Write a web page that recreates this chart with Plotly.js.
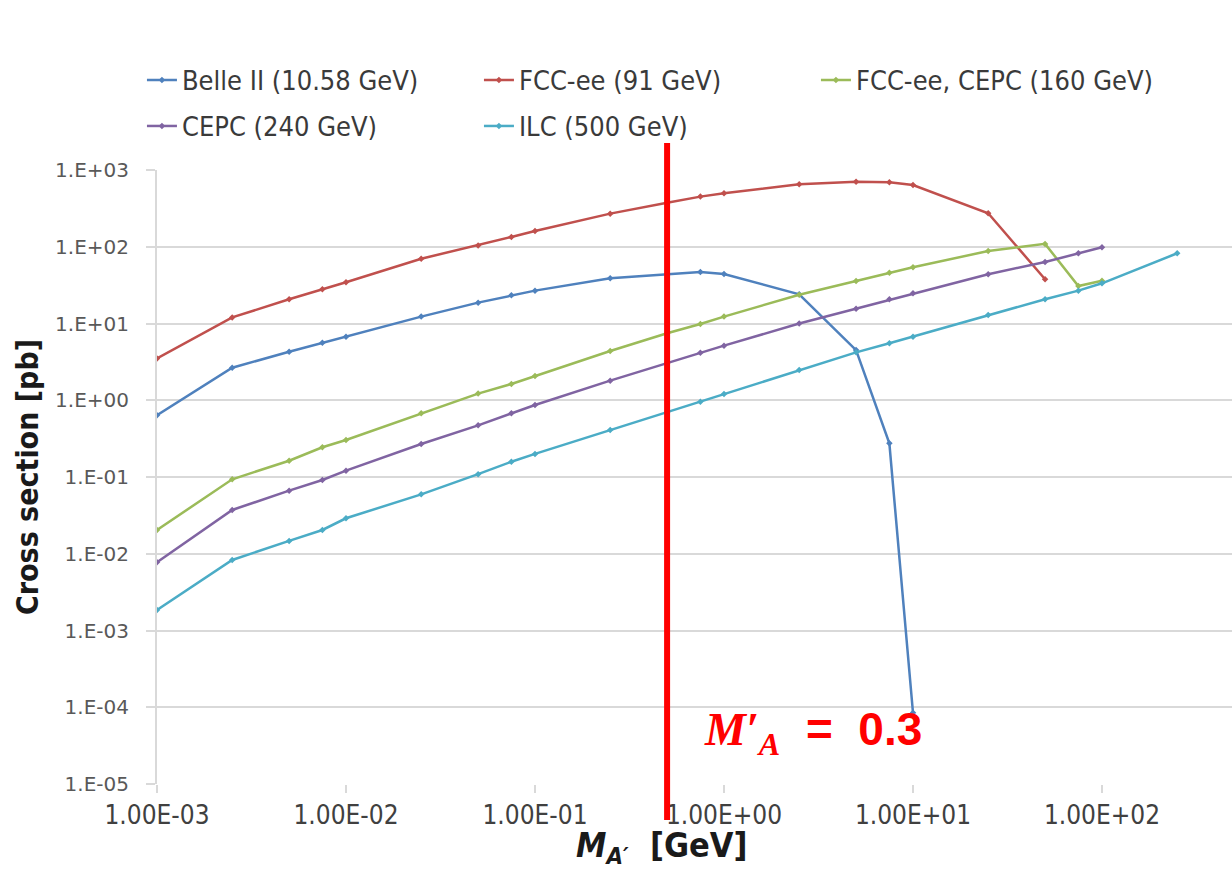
<!DOCTYPE html>
<html><head><meta charset="utf-8">
<script src="https://cdn.plot.ly/plotly-3.0.1.min.js"></script>
<style>html,body{margin:0;padding:0;background:#fff;}#chart{width:1232px;height:872px;}</style>
</head><body><div id="chart"></div>
<script>
// masses [GeV]
const massBelle = [0.001,0.0025,0.005,0.0075,0.01,0.025,0.05,0.075,0.1,0.25,0.5,0.75,1,2.5,5,7.5,10];
const xsBelle   = [0.64,2.65,4.29,5.6,6.7,12.3,18.7,23.3,26.8,38.8,43.8,46.9,44.2,24,4.5,0.275,8.5e-5];
const massFCC91 = [0.001,0.0025,0.005,0.0075,0.01,0.025,0.05,0.075,0.1,0.25,0.5,0.75,1,2.5,5,7.5,10,25,50];
const xsFCC91   = [3.5,12.0,20.7,27.9,34.4,69.8,104,134,160,270,375,450,497,650,705,690,638,273,37.7];
const mass160   = [0.001,0.0025,0.005,0.0075,0.01,0.025,0.05,0.075,0.1,0.25,0.5,0.75,1,2.5,5,7.5,10,25,50,75,100];
const xs160     = [0.0204,0.0933,0.163,0.244,0.303,0.675,1.22,1.63,2.07,4.38,7.45,9.85,12.3,23.7,35.8,45.9,54,88,109,30.8,36.1];
const mass240   = [0.001,0.0025,0.005,0.0075,0.01,0.025,0.05,0.075,0.1,0.25,0.5,0.75,1,2.5,5,7.5,10,25,50,75,100];
const xs240     = [0.00773,0.0372,0.0664,0.0914,0.121,0.269,0.471,0.675,0.867,1.80,3.03,4.17,5.14,10.0,15.6,20.7,24.7,43.8,63.3,82,98.4];
const massILC   = [0.001,0.0025,0.005,0.0075,0.01,0.025,0.05,0.075,0.1,0.25,0.5,0.75,1,2.5,5,7.5,10,25,50,75,100,250];
const xsILC     = [0.00185,0.0083,0.0147,0.0204,0.029,0.0594,0.109,0.158,0.2,0.41,0.697,0.957,1.21,2.48,4.21,5.52,6.73,12.9,20.7,26.8,33.4,82.2];

const seriesNames = ['Belle II (10.58 GeV)','FCC-ee (91 GeV)','FCC-ee, CEPC (160 GeV)','CEPC (240 GeV)','ILC (500 GeV)'];
const seriesColors = ['#4F81BD','#C0504D','#9BBB59','#8064A2','#4BACC6'];

const xTickVals = [0.001,0.01,0.1,1,10,100];
const xTickText = ['1.00E-03','1.00E-02','1.00E-01','1.00E+00','1.00E+01','1.00E+02'];
const yTickVals = [1e-5,1e-4,1e-3,1e-2,1e-1,1,10,100,1000];
const yTickText = ['1.E-05','1.E-04','1.E-03','1.E-02','1.E-01','1.E+00','1.E+01','1.E+02','1.E+03'];

const xTitle = '<i>M</i><sub><i>A′</i></sub>  [GeV]';
const yTitle = 'Cross section [pb]';
const markerMass = 0.5;
const markerLabel = '0.3';

const xs = [massBelle, massFCC91, mass160, mass240, massILC];
const ys = [xsBelle, xsFCC91, xs160, xs240, xsILC];
const narrow = '"Liberation Sans Narrow", "DejaVu Sans Condensed", "Roboto Condensed", sans-serif';

const traces = xs.map((x, i) => ({
  x: x, y: ys[i], name: seriesNames[i], type: 'scatter', mode: 'lines+markers',
  line: {color: seriesColors[i], width: 2.5},
  marker: {color: seriesColors[i], size: 5, symbol: 'diamond'},
  legend: i < 3 ? 'legend' : 'legend2'
}));

const legendCommon = {
  orientation: 'h', xanchor: 'left', yanchor: 'middle', x: -0.014,
  entrywidth: 292, entrywidthmode: 'pixels', bgcolor: 'rgba(0,0,0,0)',
  font: {family: narrow, size: 27, color: '#3a3a3a'}, itemclick: false
};

const layout = {
  width: 1232, height: 872,
  margin: {l: 157, r: 0, t: 170, b: 88},
  paper_bgcolor: '#fff', plot_bgcolor: '#fff',
  showlegend: true,
  legend: Object.assign({}, legendCommon, {y: 1.146}),
  legend2: Object.assign({}, legendCommon, {y: 1.071}),
  xaxis: {
    type: 'log', range: [-3, 2.688], tickvals: xTickVals, ticktext: xTickText,
    showgrid: false, zeroline: false, showline: false,
    ticks: 'outside', ticklen: 8, tickcolor: '#d9d9d9', tickwidth: 1.5,
    tickfont: {family: narrow, size: 26, color: '#404040'}
  },
  yaxis: {
    type: 'log', range: [-5, 3], tickvals: yTickVals, ticktext: yTickText,
    showgrid: true, gridcolor: '#d9d9d9', gridwidth: 2, zeroline: false,
    showline: true, linecolor: '#d9d9d9', linewidth: 2,
    ticks: 'outside', ticklen: 9, tickcolor: '#d9d9d9', tickwidth: 2,
    ticklabelstandoff: 13,
    tickfont: {family: 'DejaVu Sans', size: 20, color: '#595959'},
    title: {text: yTitle, font: {family: narrow, size: 30, color: '#1a1a1a', weight: 'bold'}, standoff: 8}
  },
  shapes: [{
    type: 'line', xref: 'x', yref: 'paper', x0: markerMass, x1: markerMass, y0: -0.0586, y1: 1.044,
    line: {color: '#FF0000', width: 6}
  }],
  annotations: [{
    xref: 'x', yref: 'y', x: Math.log10(markerMass) + 0.77, y: -4.335,
    xanchor: 'center', yanchor: 'middle', showarrow: false,
    text: '<span style="font-family:Liberation Serif"><i>M′</i><sub><i>A</i></sub></span>  =  ' + markerLabel,
    font: {family: 'Liberation Sans', size: 46, color: '#FF0000', weight: 'bold'}
  }, {
    xref: 'paper', yref: 'paper', x: 0.469, y: -0.104,
    xanchor: 'center', yanchor: 'middle', showarrow: false,
    text: xTitle,
    font: {family: narrow, size: 34, color: '#1a1a1a', weight: 'bold'}
  }]
};

Plotly.newPlot('chart', traces, layout, {displayModeBar: false, staticPlot: true});
</script></body></html>
